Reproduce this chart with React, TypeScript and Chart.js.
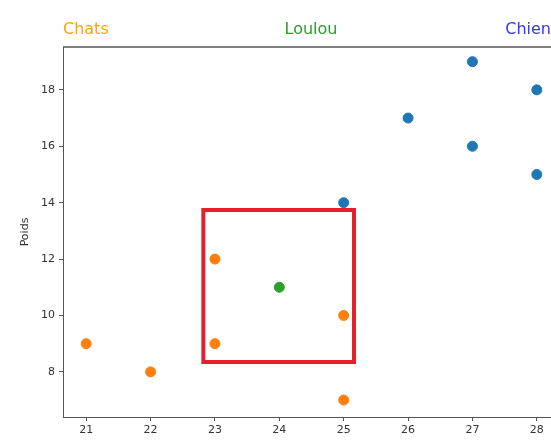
import React, { useEffect, useRef } from "react";
import { Chart, registerables } from "chart.js";

Chart.register(...registerables);

const chiensX = [25, 26, 27, 27, 28, 28];
const chiensY = [14, 17, 19, 16, 18, 15];
const chatsX = [21, 22, 23, 23, 25, 25];
const chatsY = [9, 8, 12, 9, 10, 7];
const loulouX = [24];
const loulouY = [11];
const xTicks = [21, 22, 23, 24, 25, 26, 27, 28];
const yTicks = [8, 10, 12, 14, 16, 18];
const xRange = [20.64, 28.36];
const yRange = [6.4, 19.52];
const boxX = [22.82, 25.16];
const boxY = [8.35, 13.74];
const titles = ["Chats", "Loulou", "Chien"];

const pts = (xs: number[], ys: number[]) => xs.map((x, i) => ({ x, y: ys[i] }));

const overlay = {
  id: "overlay",
  afterDatasetsDraw(chart: any) {
    const { ctx, chartArea: a, scales } = chart;
    const sx = scales.x, sy = scales.y;
    ctx.save();
    // top spine
    ctx.strokeStyle = "#555";
    ctx.lineWidth = 1.3;
    ctx.beginPath();
    ctx.moveTo(a.left, a.top);
    ctx.lineTo(a.right, a.top);
    ctx.stroke();
    // red rectangle
    ctx.strokeStyle = "#e4202c";
    ctx.lineWidth = 4;
    const x1 = sx.getPixelForValue(boxX[0]);
    const x2 = sx.getPixelForValue(boxX[1]);
    const y1 = sy.getPixelForValue(boxY[1]);
    const y2 = sy.getPixelForValue(boxY[0]);
    ctx.strokeRect(x1, y1, x2 - x1, y2 - y1);
    // titles
    ctx.font = "16px 'DejaVu Sans'";
    ctx.textBaseline = "middle";
    ctx.fillStyle = "#ffa500";
    ctx.textAlign = "left";
    ctx.fillText(titles[0], a.left, 30);
    ctx.fillStyle = "#2e9a2e";
    ctx.textAlign = "center";
    ctx.fillText(titles[1], 311, 30);
    ctx.fillStyle = "#3535ff";
    ctx.textAlign = "right";
    ctx.fillText(titles[2], 551, 30);
    // y label
    ctx.font = "11px 'DejaVu Sans'";
    ctx.fillStyle = "#333";
    ctx.translate(25, (a.top + a.bottom) / 2);
    ctx.rotate(-Math.PI / 2);
    ctx.textAlign = "center";
    ctx.fillText("Poids", 0, 0);
    ctx.restore();
  },
};

export default function App() {
  const ref = useRef<HTMLCanvasElement>(null);
  useEffect(() => {
    if (!ref.current) return;
    const tickFont = { family: "'DejaVu Sans'", size: 11 };
    const chart = new Chart(ref.current, {
      type: "scatter",
      data: {
        datasets: [
          { label: "Chiens", data: pts(chiensX, chiensY), backgroundColor: "#1f77b4", borderColor: "#1f77b4", pointRadius: 5, pointHoverRadius: 5 },
          { label: "Chats", data: pts(chatsX, chatsY), backgroundColor: "#ff7f0e", borderColor: "#ff7f0e", pointRadius: 5, pointHoverRadius: 5 },
          { label: "Loulou", data: pts(loulouX, loulouY), backgroundColor: "#2ca02c", borderColor: "#2ca02c", pointRadius: 5, pointHoverRadius: 5 },
        ],
      },
      options: {
        animation: false,
        responsive: false,
        layout: { padding: { top: 47, right: 40, left: 0, bottom: 0 } },
        plugins: { legend: { display: false }, tooltip: { enabled: false } },
        scales: {
          x: {
            type: "linear",
            min: xRange[0],
            max: xRange[1],
            afterBuildTicks: (s: any) => { s.ticks = xTicks.map((v) => ({ value: v })); },
            afterFit: (s: any) => { s.height = 23; },
            grid: { drawOnChartArea: false, drawTicks: true, tickLength: 4, color: "#555" },
            border: { display: true, color: "#555" },
            ticks: { font: tickFont, color: "#333", padding: 3, maxRotation: 0 },
          },
          y: {
            type: "linear",
            min: yRange[0],
            max: yRange[1],
            afterBuildTicks: (s: any) => { s.ticks = yTicks.map((v) => ({ value: v })); },
            afterFit: (s: any) => { s.width = 63; },
            grid: { drawOnChartArea: false, drawTicks: true, tickLength: 4, color: "#555" },
            border: { display: true, color: "#555" },
            ticks: { font: tickFont, color: "#333", padding: 4 },
          },
        },
      },
      plugins: [overlay],
    });
    return () => chart.destroy();
  }, []);
  return (
    <div style={{ position: "fixed", left: 0, top: 0, width: 551, height: 440, overflow: "hidden", background: "#fff" }}>
      <canvas ref={ref} width={600} height={440} style={{ width: 600, height: 440, display: "block" }} />
    </div>
  );
}
